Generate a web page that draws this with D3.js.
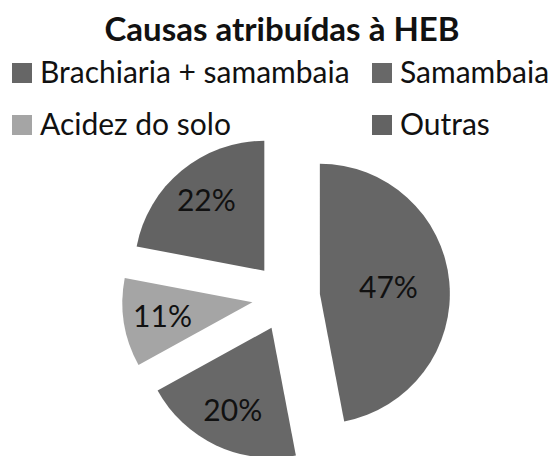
<!DOCTYPE html>
<html>
<head>
<meta charset="utf-8">
<script src="https://cdn.jsdelivr.net/npm/d3@7"></script>
<style>
  body { margin: 0; background: #fff; }
  svg { display: block; }
</style>
</head>
<body>
<svg id="chart" width="560" height="456"></svg>
<script>
var categories = ["Brachiaria + samambaia", "Samambaia", "Acidez do solo", "Outras"];
var values = [47, 20, 11, 22];
var labels = ["47%", "20%", "11%", "22%"];
var colors = ["#666666", "#686868", "#a5a5a5", "#636363"];

var width = 560, height = 456,
    radius = 130,
    explode = 34,
    cx = 286, cy = 297;

var svg = d3.select("#chart");

svg.append("text")
    .attr("x", 282)
    .attr("y", 41)
    .attr("text-anchor", "middle")
    .style("font-family", "Lato, sans-serif")
    .style("font-weight", "bold")
    .style("font-size", "33px")
    .attr("fill", "#111")
    .text("Causas atribuídas à HEB");

// legend, two columns
var legendPos = [[12, 63], [372, 63], [12, 115], [372, 115]];
var legend = svg.append("g").selectAll("g")
    .data(categories)
    .enter().append("g")
    .attr("transform", function(d, i) { return "translate(" + legendPos[i][0] + "," + legendPos[i][1] + ")"; });

legend.append("rect")
    .attr("width", 20)
    .attr("height", 20)
    .attr("fill", function(d, i) { return colors[i]; });

legend.append("text")
    .attr("x", 28)
    .attr("y", 20)
    .style("font-family", "Lato, sans-serif")
    .style("font-size", "30px")
    .attr("fill", "#111")
    .text(function(d) { return d; });

var pie = d3.pie()
    .sort(null)
    .value(function(d) { return d; });

var arc = d3.arc()
    .innerRadius(0)
    .outerRadius(radius);

var arcs = pie(values);

var g = svg.append("g")
    .attr("transform", "translate(" + cx + "," + cy + ")");

var slice = g.selectAll("g.slice")
    .data(arcs)
    .enter().append("g")
    .attr("class", "slice")
    .attr("transform", function(d) {
        var a = (d.startAngle + d.endAngle) / 2;
        return "translate(" + (explode * Math.sin(a)) + "," + (-explode * Math.cos(a)) + ")";
    });

slice.append("path")
    .attr("d", arc)
    .attr("fill", function(d, i) { return colors[i]; });

slice.append("text")
    .attr("transform", function(d) {
        var a = (d.startAngle + d.endAngle) / 2;
        var r = d.data > 40 ? radius * 0.53 : radius * 0.7;
        return "translate(" + (r * Math.sin(a)) + "," + (-r * Math.cos(a)) + ")";
    })
    .attr("text-anchor", "middle")
    .attr("dy", "0.36em")
    .style("font-family", "Lato, sans-serif")
    .style("font-size", "30px")
    .attr("fill", "#111")
    .text(function(d, i) { return labels[i]; });
</script>
</body>
</html>
